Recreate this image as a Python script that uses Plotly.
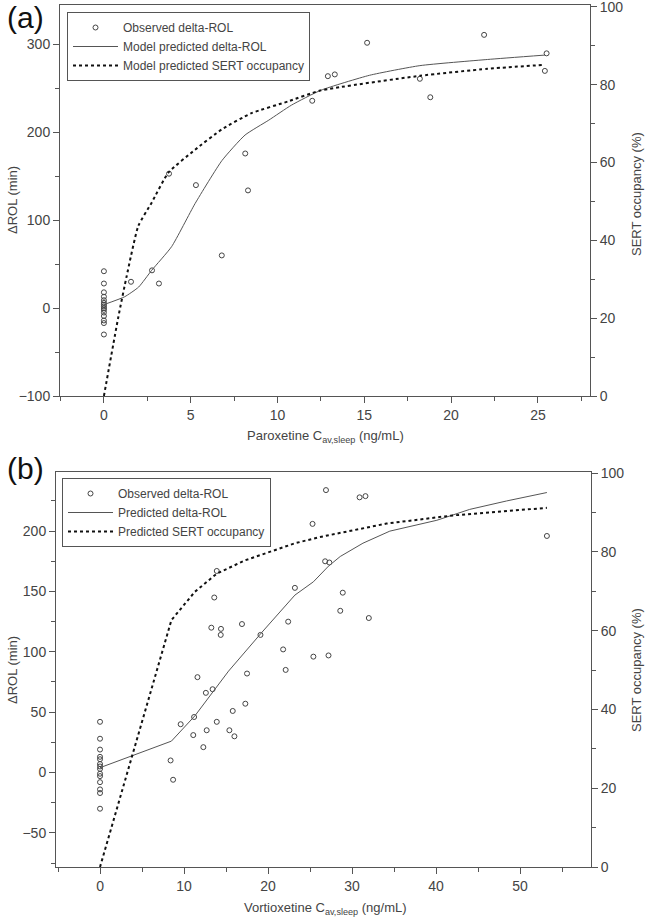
import plotly.graph_objects as go

# ---- (a) paroxetine ----
parox_obs_x = [0] * 15 + [1.56, 2.77, 3.17, 3.75, 5.3, 6.79, 8.14, 8.3, 12.0, 12.9, 13.3,
                          15.16, 18.2, 18.8, 21.9, 25.4, 25.5]
parox_obs_y = [42, 28, 18, 13, 9, 6, 4, 2, 0, -2, -5, -9, -14, -17, -30,
               30, 43, 28, 153, 140, 60, 176, 134, 236, 264, 266,
               302, 261, 240, 311, 270, 290]

parox_rol_x = [0, 1.2, 2.0, 2.75, 3.9, 5.25, 6.8, 8.13, 9.5, 10.8, 12.5, 15.3, 18.2, 22.1, 25.4]
parox_rol_y = [4, 13, 24, 43, 70, 119, 168, 197, 214, 231, 248, 265, 276, 283, 288]

parox_occ_x = [0, 0.83, 1.31, 1.98, 2.75, 3.71, 5.25, 6.78, 8.5, 10.6, 12.46, 18.2, 22.1, 25.3]
parox_occ_y = [0, 20.3, 30.8, 43.7, 49.7, 57.4, 63.3, 68.5, 72.7, 75.7, 78.5, 82.3, 84.1, 85.1]

# ---- (b) vortioxetine ----
vort_obs_x = [0] * 14 + [8.4, 8.7, 9.6, 11.1, 11.2, 11.6, 12.3, 12.6, 12.7, 13.25, 13.4, 13.6,
                         13.9, 13.9, 14.4, 14.37, 15.4, 15.8, 16.0, 16.9, 17.3, 17.5, 19.1,
                         21.8, 22.1, 22.4, 23.2, 25.3, 25.4, 26.8, 26.9, 27.2, 27.3, 28.6,
                         28.9, 30.9, 31.6, 32.0, 53.2]
vort_obs_y = [42, 28, 19, 13, 11, 7, 5, 3, -1, -3, -8, -14, -17, -30,
              10, -6, 40, 31, 46, 79, 21, 66, 35, 120, 69, 145,
              167, 42, 119, 114, 35, 51, 30, 123, 57, 82, 114,
              102, 85, 125, 153, 206, 96, 175, 234, 97, 174, 134,
              149, 228, 229, 128, 196]

vort_rol_x = [0, 8.5, 11.3, 15.3, 19.25, 23.2, 25.4, 27.2, 28.6, 31.3, 34.5, 40.1, 44.0, 48.4, 53.2]
vort_rol_y = [4, 26, 47, 84, 116, 147, 158, 171, 179, 190, 200, 209, 218, 225, 232]

vort_occ_x = [0, 8.5, 11.3, 13.9, 17.3, 23.2, 26.2, 34.1, 42.1, 53.2]
vort_occ_y = [0, 62.7, 69.9, 74.5, 77.9, 82.2, 83.8, 87.2, 89.3, 91.2]

W, H = 646, 922
AXC = "#555555"
TXT = "#444444"
FONT = "Liberation Sans, Arial, sans-serif"


def px_x(p):
    return p / W


def px_y(p):
    return 1 - p / H


def axis(domain, rng, dtick, minor, anchor, side=None, overlay=None, mirror=False):
    d = dict(domain=domain, range=rng, dtick=dtick, tick0=0, showgrid=False, zeroline=False,
             showline=True, linecolor=AXC, linewidth=1, ticks="outside", ticklen=6,
             tickcolor=AXC, tickfont=dict(size=14, color=TXT, family=FONT),
             minor=dict(dtick=minor, tick0=0, ticks="outside", ticklen=4, tickcolor=AXC),
             anchor=anchor, mirror=mirror, automargin=False, ticklabeloverflow="allow")
    if side:
        d["side"] = side
    if overlay:
        d["overlaying"] = overlay
        d.pop("domain")
    return d


fig = go.Figure()

marker = dict(symbol="circle-open", size=5, color="#444444", line=dict(width=1))

panels = [
    ("x", "y", "y2", "legend", "spline", parox_obs_x, parox_obs_y, parox_rol_x, parox_rol_y,
     parox_occ_x, parox_occ_y,
     ["Observed delta-ROL", "Model predicted delta-ROL", "Model predicted SERT occupancy"]),
    ("x2", "y3", "y4", "legend2", "linear", vort_obs_x, vort_obs_y, vort_rol_x, vort_rol_y,
     vort_occ_x, vort_occ_y,
     ["Observed delta-ROL", "Predicted delta-ROL", "Predicted SERT occupancy"]),
]

for xa, ya, ya2, leg, shape, ox, oy, rx, ry, cx, cy, names in panels:
    fig.add_trace(go.Scatter(x=ox, y=oy, mode="markers", marker=marker, name=names[0],
                             xaxis=xa, yaxis=ya, legend=leg, cliponaxis=False))
    fig.add_trace(go.Scatter(x=rx, y=ry, mode="lines",
                             line=dict(color="#555555", width=1, shape=shape, smoothing=0.5),
                             name=names[1], xaxis=xa, yaxis=ya, legend=leg))
    fig.add_trace(go.Scatter(x=cx, y=cy, mode="lines",
                             line=dict(color="#111111", width=2, dash="dot", shape=shape, smoothing=0.5),
                             name=names[2], xaxis=xa, yaxis=ya2, legend=leg))

legend_style = dict(bgcolor="white", bordercolor=AXC, borderwidth=1,
                    font=dict(size=12, color=TXT, family=FONT), itemwidth=45,
                    xanchor="left", yanchor="top", tracegroupgap=0)

fig.update_layout(
    width=W, height=H, margin=dict(l=0, r=0, t=0, b=0, autoexpand=False),
    paper_bgcolor="white", plot_bgcolor="white",
    font=dict(family=FONT, color=TXT),
    xaxis=axis([px_x(60), px_x(590)], [-2.53, 28.0], 5, 2.5, "y", mirror=True),
    yaxis=axis([px_y(396), px_y(5)], [-100, 345], 100, 50, "x"),
    yaxis2=axis(None, [0, 100.5], 20, 10, "x", side="right", overlay="y"),
    xaxis2=axis([px_x(56), px_x(591)], [-5.24, 58.45], 10, 5, "y3", mirror=True),
    yaxis3=axis([px_y(867), px_y(472)], [-78.3, 249], 50, 25, "x2"),
    yaxis4=axis(None, [0, 100.3], 20, 10, "x2", side="right", overlay="y3"),
    legend=dict(x=px_x(67), y=px_y(12), **legend_style),
    legend2=dict(x=px_x(62), y=px_y(478), **legend_style),
    showlegend=True,
)

title_font = dict(size=13, color=TXT, family=FONT)
annotations = [
    dict(text="(a)", x=px_x(25), y=px_y(18), font=dict(size=30, color="#111111", family=FONT)),
    dict(text="(b)", x=px_x(25), y=px_y(469), font=dict(size=30, color="#111111", family=FONT)),
    dict(text="Paroxetine C<sub>av,sleep</sub> (ng/mL)", x=px_x(325), y=px_y(436), font=title_font),
    dict(text="Vortioxetine C<sub>av,sleep</sub> (ng/mL)", x=px_x(325), y=px_y(908), font=title_font),
    dict(text="ΔROL (min)", x=px_x(12), y=px_y(200), textangle=-90, font=title_font),
    dict(text="ΔROL (min)", x=px_x(12), y=px_y(670), textangle=-90, font=title_font),
    dict(text="SERT occupancy (%)", x=px_x(636), y=px_y(194), textangle=-90, font=title_font),
    dict(text="SERT occupancy (%)", x=px_x(636), y=px_y(670), textangle=-90, font=title_font),
]
for a in annotations:
    a.update(xref="paper", yref="paper", showarrow=False, xanchor="center", yanchor="middle")
fig.update_layout(annotations=annotations)

# drop the browser's default 8px body margin so the figure fills the window
fig.write_html("out.html", config={"displayModeBar": False},
               post_script="document.body.style.margin='0px';")
